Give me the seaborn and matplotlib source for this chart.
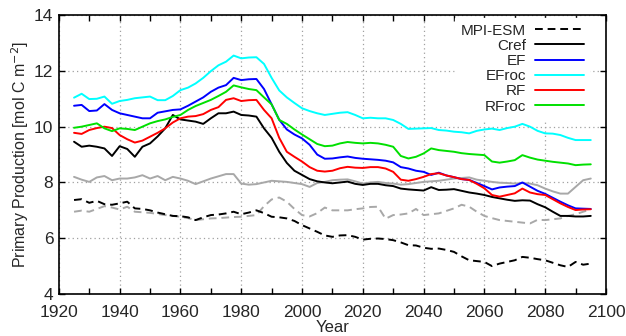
import numpy as np
import pandas as pd
import seaborn as sns
import matplotlib
matplotlib.use("Agg")
import matplotlib.pyplot as plt
from matplotlib.ticker import MultipleLocator

# years shared by all series (2.5-year steps)
years = np.arange(1925, 2095.1, 2.5)

mpi_esm = [7.37, 7.40, 7.27, 7.34, 7.22, 7.20, 7.25, 7.31, 7.07, 7.05, 7.00, 6.92, 6.86, 6.80, 6.79,
           6.75, 6.65, 6.75, 6.83, 6.85, 6.89, 6.95, 6.86, 6.92, 7.00, 6.90, 6.77, 6.75, 6.71, 6.62,
           6.47, 6.35, 6.23, 6.10, 6.05, 6.10, 6.11, 6.05, 5.95, 5.98, 5.99, 5.97, 5.93, 5.85, 5.75,
           5.74, 5.66, 5.62, 5.63, 5.58, 5.51, 5.35, 5.21, 5.18, 5.15, 5.00, 5.09, 5.15, 5.21, 5.33,
           5.30, 5.25, 5.21, 5.12, 5.03, 4.97, 5.15, 5.05, 5.09]

cref = [9.46, 9.28, 9.32, 9.28, 9.22, 8.95, 9.30, 9.20, 8.92, 9.28, 9.40, 9.65, 9.94, 10.42, 10.26,
        10.22, 10.18, 10.10, 10.30, 10.48, 10.48, 10.54, 10.42, 10.40, 10.36, 9.94, 9.60, 9.10, 8.70, 8.42,
        8.27, 8.12, 8.04, 8.00, 7.97, 8.00, 8.03, 7.95, 7.91, 7.95, 7.95, 7.90, 7.87, 7.78, 7.75,
        7.73, 7.71, 7.83, 7.73, 7.74, 7.76, 7.70, 7.64, 7.60, 7.55, 7.48, 7.43, 7.38, 7.34, 7.36,
        7.35, 7.22, 7.11, 6.95, 6.80, 6.80, 6.78, 6.78, 6.80]

ef = [10.75, 10.78, 10.56, 10.58, 10.81, 10.60, 10.48, 10.42, 10.36, 10.30, 10.30, 10.50, 10.55, 10.60, 10.62,
      10.75, 10.90, 11.05, 11.25, 11.40, 11.49, 11.75, 11.67, 11.70, 11.71, 11.35, 10.80, 10.25, 9.90, 9.72,
      9.58, 9.35, 9.00, 8.85, 8.86, 8.90, 8.93, 8.88, 8.85, 8.83, 8.81, 8.78, 8.72, 8.55, 8.50,
      8.42, 8.38, 8.27, 8.35, 8.25, 8.19, 8.12, 8.09, 7.98, 7.87, 7.75, 7.82, 7.85, 7.87, 8.00,
      7.85, 7.70, 7.59, 7.45, 7.31, 7.18, 7.07, 7.06, 7.05]

efroc = [11.04, 11.18, 10.99, 11.00, 11.08, 10.82, 10.92, 10.96, 11.02, 11.05, 11.08, 10.95, 10.95, 11.10, 11.31,
         11.40, 11.55, 11.75, 11.99, 12.20, 12.33, 12.55, 12.45, 12.48, 12.49, 12.25, 11.75, 11.30, 11.05, 10.85,
         10.66, 10.56, 10.48, 10.42, 10.46, 10.50, 10.52, 10.42, 10.30, 10.32, 10.30, 10.30, 10.24, 10.10, 9.92,
         9.93, 9.94, 9.95, 9.88, 9.86, 9.82, 9.80, 9.76, 9.85, 9.90, 9.93, 9.88, 9.95, 10.00, 10.10,
         10.00, 9.85, 9.76, 9.75, 9.70, 9.60, 9.52, 9.52, 9.52]

rf = [9.78, 9.74, 9.88, 9.95, 10.00, 9.95, 9.70, 9.55, 9.43, 9.50, 9.64, 9.78, 9.94, 10.15, 10.30,
      10.36, 10.38, 10.45, 10.60, 10.70, 10.96, 11.02, 10.92, 10.95, 10.96, 10.60, 10.30, 9.60, 9.10, 8.92,
      8.75, 8.55, 8.42, 8.39, 8.42, 8.51, 8.56, 8.53, 8.52, 8.55, 8.55, 8.50, 8.38, 8.10, 8.06,
      8.12, 8.20, 8.30, 8.33, 8.25, 8.19, 8.12, 8.09, 7.95, 7.79, 7.55, 7.49, 7.55, 7.61, 7.78,
      7.64, 7.58, 7.55, 7.40, 7.25, 7.12, 7.01, 7.03, 7.04]

rfroc = [9.96, 10.00, 10.06, 10.12, 9.94, 9.84, 9.94, 9.92, 9.88, 10.00, 10.12, 10.20, 10.26, 10.35, 10.42,
         10.60, 10.74, 10.85, 10.96, 11.10, 11.25, 11.48, 11.41, 11.35, 11.31, 11.05, 10.80, 10.24, 10.10, 9.90,
         9.72, 9.55, 9.38, 9.30, 9.32, 9.40, 9.45, 9.42, 9.40, 9.42, 9.40, 9.35, 9.28, 8.95, 8.86,
         8.92, 9.04, 9.22, 9.16, 9.13, 9.10, 9.05, 9.02, 9.00, 8.98, 8.75, 8.71, 8.75, 8.80, 8.98,
         8.89, 8.82, 8.78, 8.74, 8.71, 8.68, 8.62, 8.64, 8.65]

# two grey runs without legend entry
grey_solid = [8.20, 8.10, 8.02, 8.18, 8.23, 8.08, 8.14, 8.14, 8.18, 8.26, 8.14, 8.23, 8.08, 8.20, 8.14,
              8.06, 7.94, 8.04, 8.14, 8.22, 8.30, 8.30, 7.96, 7.92, 7.94, 8.00, 8.06, 8.04, 8.02, 7.98,
              7.94, 7.84, 7.98, 8.02, 8.08, 8.10, 8.11, 8.04, 7.96, 8.00, 8.02, 7.98, 7.96, 7.92, 7.94,
              7.98, 8.02, 8.04, 8.06, 8.10, 8.14, 8.16, 8.18, 8.10, 8.06, 8.02, 7.99, 7.98, 7.96, 7.98,
              7.96, 7.90, 7.78, 7.68, 7.60, 7.60, 7.84, 8.08, 8.14]

grey_dashed = [6.95, 6.99, 6.95, 7.05, 7.15, 7.10, 7.03, 7.13, 6.95, 6.93, 6.91, 6.87, 6.83, 6.80, 6.77,
               6.72, 6.65, 6.68, 6.71, 6.72, 6.74, 6.76, 6.77, 6.80, 6.83, 7.15, 7.39, 7.46, 7.31, 7.05,
               6.83, 6.78, 6.90, 7.10, 7.00, 7.00, 7.00, 7.04, 7.07, 7.12, 7.13, 6.70, 6.83, 6.85, 6.89,
               7.05, 6.83, 6.86, 6.89, 6.98, 7.07, 7.20, 7.13, 6.95, 6.80, 6.72, 6.65, 6.62, 6.59, 6.56,
               6.53, 6.66, 6.65, 6.68, 6.71, 6.80, 6.86, 6.95, 7.03]

sns.set_style("ticks")
plt.rcParams["font.family"] = ["Liberation Sans", "DejaVu Sans"]

fig = plt.figure(figsize=(6.26, 3.36), dpi=100)
ax = fig.add_axes([0.094, 0.125, 0.874, 0.830])

lw = 1.4
sns.lineplot(x=years, y=grey_solid, color="#a8a8a8", lw=lw, ax=ax, legend=False)
sns.lineplot(x=years, y=grey_dashed, color="#a8a8a8", lw=lw, ax=ax, legend=False)
ax.lines[-1].set_dashes([4, 2.5])

series = [
    ("MPI-ESM", mpi_esm, "black", True),
    ("Cref", cref, "black", False),
    ("EF", ef, "#0000ff", False),
    ("EFroc", efroc, "#00ffff", False),
    ("RF", rf, "#ff0000", False),
    ("RFroc", rfroc, "#00e000", False),
]

for name, vals, col, dashed in series:
    sns.lineplot(x=years, y=vals, color=col, lw=lw, ax=ax, label=name)
    if dashed:
        ax.lines[-1].set_dashes([4, 2.5])

ax.set_xlim(1920, 2100)
ax.set_ylim(4, 14)
ax.xaxis.set_major_locator(MultipleLocator(20))
ax.xaxis.set_minor_locator(MultipleLocator(10))
ax.yaxis.set_major_locator(MultipleLocator(2))

ax.grid(True, which="major", color="#a0a0a0", linestyle=(0, (1, 2.5)), linewidth=0.9)
ax.set_axisbelow(True)

ax.tick_params(which="both", direction="in", top=True, right=True, labelsize=12.5,
               length=4.5, width=1, color="black")
ax.tick_params(axis="x", pad=8)
ax.tick_params(axis="y", pad=4)
for sp in ax.spines.values():
    sp.set_linewidth(1.2)
    sp.set_color("black")

ax.set_xlabel("Year", fontsize=12, labelpad=0)
ax.set_ylabel("Primary Production [mol C m$^{-2}$]", fontsize=11.5, labelpad=2)

leg = ax.legend(loc="upper right", bbox_to_anchor=(0.975, 1.0), markerfirst=False,
                fontsize=11, handlelength=3.2, labelspacing=0.08, borderpad=0.35,
                borderaxespad=0.2, handletextpad=0.6, frameon=True, fancybox=False,
                framealpha=1, facecolor="white", edgecolor="white")

fig.savefig("out.png", dpi=100)
